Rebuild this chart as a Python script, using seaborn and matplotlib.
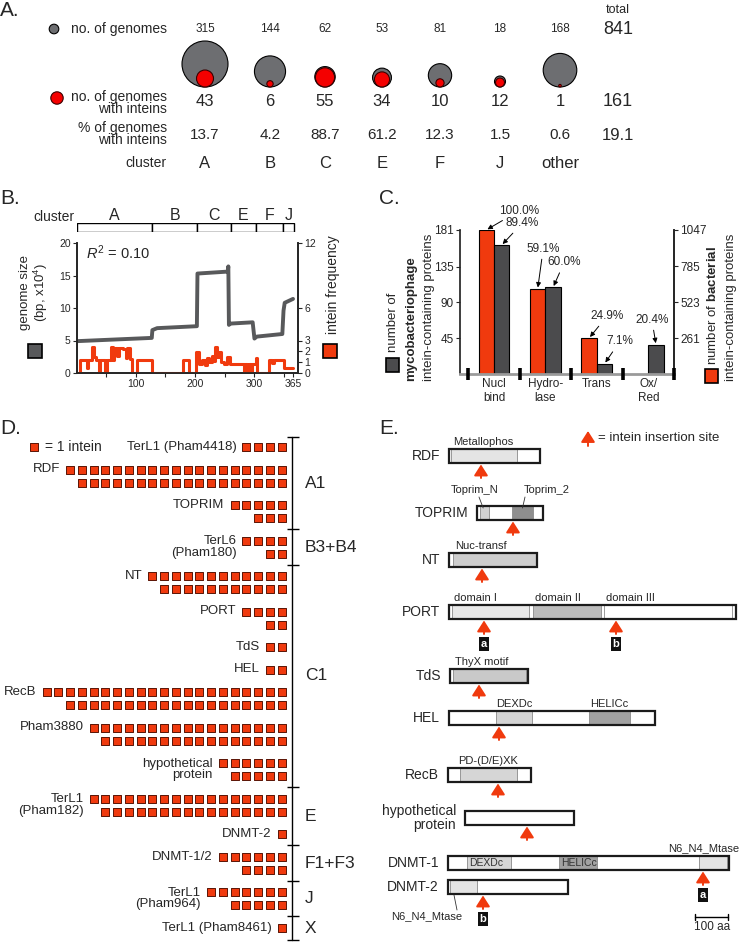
import numpy as np
import pandas as pd
import matplotlib
matplotlib.use('Agg')
import matplotlib.pyplot as plt
import seaborn as sns
from matplotlib.patches import Circle, Rectangle

sns.set_theme(style='ticks')
plt.rcParams['font.family'] = ['Liberation Sans', 'DejaVu Sans']
plt.rcParams['mathtext.fontset'] = 'custom'
plt.rcParams['mathtext.rm'] = 'Liberation Sans'
plt.rcParams['mathtext.it'] = 'Liberation Sans:italic'
plt.rcParams['mathtext.bf'] = 'Liberation Sans:bold'

# --- A. genomes per cluster ---
clusters_a = ['A', 'B', 'C', 'E', 'F', 'J', 'other']
n_genomes = [315, 144, 62, 53, 81, 18, 168]
n_with_inteins = [43, 6, 55, 34, 10, 12, 1]
pct_with_inteins = ['13.7', '4.2', '88.7', '61.2', '12.3', '1.5', '0.6']
total_genomes = '841'
total_inteins = '161'
total_pct = '19.1'

# --- B. genome size vs intein frequency (genome index 1..365) ---
cluster_names_b = ['A', 'B', 'C', 'E', 'F', 'J']
cluster_edges_b = [1, 127, 204, 260, 302, 348, 366]
size_x = [1, 127, 128, 136, 203, 204, 255, 256, 257, 259, 297, 300, 304, 347, 349, 351, 365]
size_y = [4.9, 5.4, 6.6, 6.9, 7.2, 15.3, 15.6, 16.4, 7.4, 7.6, 7.8, 5.3, 5.6, 6.0, 9.6, 10.8, 11.4]
freq_x = [1, 6, 18, 20, 27, 30, 33, 38, 40, 49, 51, 58, 61, 64, 68, 72, 78, 84, 86, 90, 94,
          102, 128, 180, 189, 202, 206, 212, 216, 220, 224, 228, 231, 234, 237, 241, 244,
          248, 253, 258, 282, 284, 288, 290, 294, 296, 303, 305, 324, 330, 333, 349, 365]
freq_y = [0, 1.2, 0.5, 1.2, 2.4, 1.5, 1.2, 0, 1.2, 0, 1.2, 2.4, 1.2, 2.3, 1.6, 2.3, 2.2, 1.4, 2.3, 1.3, 0,
          1.2, 0, 1.2, 0, 1.9, 0.8, 1.2, 0.7, 1.4, 1.0, 1.6, 1.1, 2.4, 1.5, 1.9, 1.0,
          0.8, 1.5, 0.8, 0, 0.8, 0, 0.8, 0, 0.8, 1.4, 0, 1.2, 0.9, 1.2, 0.5, 0.5]

# --- C. intein-containing proteins by function ---
categories_c = ['Nucl\nbind', 'Hydro-\nlase', 'Trans', 'Ox/\nRed']
phage_counts = [162, 109, 13, 37]
bacterial_counts = [1047, 619, 261, 0]
phage_pct = ['89.4%', '60.0%', '7.1%', '20.4%']
bacterial_pct = ['100.0%', '59.1%', '24.9%', '']

# --- D. inteins per gene ---
genes_d = ['TerL1 (Pham4418)', 'RDF', 'TOPRIM', 'TerL6\n(Pham180)', 'NT', 'PORT', 'TdS', 'HEL',
           'RecB', 'Pham3880', 'hypothetical\nprotein', 'TerL1\n(Pham182)', 'DNMT-2',
           'DNMT-1/2', 'TerL1\n(Pham964)', 'TerL1 (Pham8461)']
rows_d = [[4], [19, 18], [5, 3], [4, 2], [12, 11], [4, 2], [2], [2],
          [21, 19], [17, 16], [6, 5], [17, 16], [1], [6, 4], [7, 5], [1]]
groups_d = ['A1', 'B3+B4', 'C1', 'E', 'F1+F3', 'J', 'X']
genes_per_group = [3, 1, 7, 2, 1, 1, 1]

# --- E. domain maps (aa) ---
proteins_e = ['RDF', 'TOPRIM', 'NT', 'PORT', 'TdS', 'HEL', 'RecB', 'hypothetical\nprotein', 'DNMT-1', 'DNMT-2']
prot_start_aa = [0, 84, 0, 0, 3, 0, -3, 48, -3, -3]
prot_len_aa = [273, 198, 264, 861, 234, 618, 249, 327, 843, 360]
domains_e = [
    [('Metallophos', 6, 204, '#e4e4e4', 'left')],
    [('Toprim_N', 93, 120, '#d2d2d2', 'lead'), ('Toprim_2', 189, 252, '#8e8e8e', 'lead')],
    [('Nuc-transf', 12, 261, '#cdcdcd', 'left')],
    [('domain I', 9, 240, '#e8e8e8', 'left'), ('domain II', 252, 456, '#bcbcbc', 'left'),
     ('domain III', 465, 849, '#ffffff', 'left')],
    [('ThyX motif', 12, 231, '#c9c9c9', 'left')],
    [('DEXDc', 141, 249, '#d4d4d4', 'center'), ('HELICc', 420, 543, '#a2a2a2', 'center')],
    [('PD-(D/E)XK', 33, 204, '#d6d6d6', 'center')],
    [],
    [('DEXDc', 54, 186, '#d6d6d6', 'inside'), ('HELICc', 330, 444, '#a2a2a2', 'inside'),
     ('N6_N4_Mtase', 750, 834, '#e4e4e4', 'right')],
    [('N6_N4_Mtase', 3, 84, '#e4e4e4', 'below')],
]
intein_sites_aa = [[96], [192], [99], [105, 501], [90], [150], [147], [234], [762], [102]]
site_tags = [[''], [''], [''], ['a', 'b'], [''], [''], [''], [''], ['a'], ['b']]
scale_bar_aa = 100

RED = '#f03a0e'
RED_A = '#f40000'
GRAY_A = '#6d6e71'

W, H = 740, 942
fig = plt.figure(figsize=(W / 100, H / 100), dpi=100)


def box(x0, y0, x1, y1):
    return [x0 / W, 1 - y1 / H, (x1 - x0) / W, (y1 - y0) / H]


canvas = fig.add_axes([0, 0, 1, 1])
canvas.set_xlim(0, W)
canvas.set_ylim(H, 0)
canvas.axis('off')


def txt(x, y, s, size, ha='center', va='center', **kw):
    canvas.text(x, y, s, fontsize=size, ha=ha, va=va, **kw)


for lab, (x, y) in zip(['A.', 'B.', 'C.', 'D.', 'E.'],
                       [(0, 10), (0, 198), (379, 198), (0, 428), (379, 429)]):
    txt(x, y, lab, 15, ha='left')

# ---------------- Panel A ----------------
col_x = [205, 270, 325, 382, 440, 500, 560]
tot_x = 618
k = 23 / np.sqrt(315)
base_y = 87
for x, n, m in zip(col_x, n_genomes, n_with_inteins):
    r = k * np.sqrt(n)
    canvas.add_patch(Circle((x, base_y - r), r, fc=GRAY_A, ec='black', lw=0.8))
    r2 = k * np.sqrt(m)
    canvas.add_patch(Circle((x, base_y - r2), r2, fc=RED_A, ec='#3a0000', lw=0.8))
canvas.add_patch(Circle((54, 29), 4.8, fc=GRAY_A, ec='black', lw=0.8))
canvas.add_patch(Circle((57, 98), 6.2, fc=RED_A, ec='#3a0000', lw=0.8))

lab_x = 167
txt(lab_x, 29, 'no. of genomes', 10, ha='right')
txt(lab_x, 103, 'no. of genomes\nwith inteins', 10, ha='right', linespacing=0.9)
txt(lab_x, 134, '% of genomes\nwith inteins', 10, ha='right', linespacing=0.9)
txt(lab_x, 163, 'cluster', 10, ha='right')
txt(tot_x, 10, 'total', 9)
for x, n, m, p, c in zip(col_x, n_genomes, n_with_inteins, pct_with_inteins, clusters_a):
    txt(x, 29, str(n), 8.5)
    txt(x, 102, str(m), 12)
    txt(x, 135, p, 11)
    txt(x, 163, c, 12)
txt(tot_x, 30, total_genomes, 13)
txt(tot_x, 102, total_inteins, 13)
txt(tot_x, 135, total_pct, 12)

# ---------------- Panel B ----------------
axcl = fig.add_axes(box(77, 223, 298, 232))
axcl.set_facecolor('none')
starts = cluster_edges_b[:-1]
widths = np.diff(cluster_edges_b)
axcl.barh(0, widths, left=starts, height=1, color='white', edgecolor='black', linewidth=1)
for s, w, name in zip(starts, widths, cluster_names_b):
    axcl.text(s + w / 2, 1.3, name, ha='center', va='center', fontsize=11.5, clip_on=False)
axcl.set_xlim(1, 373.4)
axcl.set_ylim(-0.5, 0.5)
axcl.axis('off')
txt(74, 217, 'cluster', 10, ha='right')

axb = fig.add_axes(box(77, 243, 298, 373))
axb.set_facecolor('none')
sns.lineplot(x=size_x, y=size_y, ax=axb, color='#58595b', linewidth=2.8, estimator=None, sort=False)
axb.set_xlim(1, 373.4)
axb.set_ylim(0, 20)
axb.set_yticks([0, 5, 10, 15, 20])
xt = [50, 100, 150, 200, 250, 300, 350, 365]
axb.set_xticks(xt)
axb.set_xticklabels([str(v) if v in (100, 200, 300, 365) else '' for v in xt])
axb.spines['top'].set_visible(False)
axb.tick_params(labelsize=7.5, length=3, width=0.8, pad=1.5)
axb2 = axb.twinx()
sns.lineplot(x=freq_x, y=freq_y, ax=axb2, color=RED, linewidth=2.2, drawstyle='steps-post',
             estimator=None, sort=False)
axb2.set_ylim(0, 12)
axb2.set_yticks([0, 1, 2, 3, 6, 12])
axb2.spines['top'].set_visible(False)
axb2.tick_params(labelsize=7.5, length=3, width=0.8, pad=1.5)
axb2.set_ylabel('')
txt(86, 253, r'$R^2$ = 0.10', 10.5, ha='left')
txt(25, 292, 'genome size', 9.5, rotation=90)
txt(41, 292, r'(bp, x10$^4$)', 9.5, rotation=90)
canvas.add_patch(Rectangle((28, 344), 14, 14, fc='#58595b', ec='black', lw=1.2))
txt(333, 285, 'intein frequency', 10, rotation=90)
canvas.add_patch(Rectangle((323, 344), 14, 14, fc=RED, ec='black', lw=1.2))

# ---------------- Panel C ----------------
scale_c = 181 / 1047
df_c = pd.DataFrame({
    'category': categories_c * 2,
    'source': ['bacterial'] * 4 + ['phage'] * 4,
    'count': bacterial_counts + phage_counts,
})
df_c['height'] = np.where(df_c['source'] == 'bacterial', df_c['count'] * scale_c, df_c['count'])
df_c = df_c[df_c['count'] > 0]

axc = fig.add_axes(box(460, 230, 674, 374))
axc.set_facecolor('none')
sns.barplot(data=df_c, x='category', y='height', hue='source', order=categories_c,
            hue_order=['bacterial', 'phage'], palette={'bacterial': RED, 'phage': '#4b4b4d'},
            width=0.6, saturation=1, edgecolor='black', linewidth=0.8, legend=False, ax=axc)
axc.set_xlim(-0.66, 3.5)
axc.set_ylim(0, 181)
axc.set_yticks([45, 90, 135, 181])
axc.set_xlabel('')
axc.set_ylabel('')
axc.spines['top'].set_visible(False)
axc.spines['bottom'].set_color('#9a9a9a')
axc.spines['bottom'].set_linewidth(2)
axc.tick_params(axis='x', length=0, labelsize=8.5, pad=3)
axc.tick_params(axis='y', labelsize=8.5, length=3, width=0.8, pad=1.5)
sec = axc.secondary_yaxis('right', functions=(lambda v: v / scale_c, lambda v: v * scale_c))
sec.set_yticks([261, 523, 785, 1047])
sec.tick_params(labelsize=8.5, length=3, width=0.8, pad=1.5)
axc.vlines([-0.5, 0.5, 1.5, 2.5, 3.5], -7.5, 7.5, color='black', lw=2.6, clip_on=False, zorder=5)

# percentage labels: (text, bar x, bar top, offset in points)
notes = [
    (bacterial_pct[0], -0.15, bacterial_counts[0] * scale_c, (24, 14)),
    (phage_pct[0], 0.15, phage_counts[0], (15, 16)),
    (bacterial_pct[1], 0.85, bacterial_counts[1] * scale_c, (4, 29)),
    (phage_pct[1], 1.15, phage_counts[1], (8, 18)),
    (bacterial_pct[2], 1.85, bacterial_counts[2] * scale_c, (13, 16)),
    (phage_pct[2], 2.15, phage_counts[2], (11, 16)),
    (phage_pct[3], 3.15, phage_counts[3], (-3, 18)),
]
for s, bx, by, off in notes:
    axc.annotate(s, xy=(bx, by), xytext=off, textcoords='offset points', ha='center', va='center',
                 fontsize=8.5, annotation_clip=False,
                 arrowprops=dict(arrowstyle='-|>', color='black', lw=0.7, mutation_scale=7,
                                 shrinkA=1, shrinkB=1))

txt(393, 352, 'number of', 9.5, va='bottom', rotation=90)
txt(411, 381, 'mycobacteriophage', 9.5, va='bottom', rotation=90, weight='bold')
txt(429, 381, 'intein-containing proteins', 9.5, va='bottom', rotation=90)
canvas.add_patch(Rectangle((386, 358), 13, 14, fc='#4b4b4d', ec='black', lw=1.2))
txt(713, 365, r'number of $\mathbf{bacterial}$', 9.5, va='bottom', rotation=90)
txt(731, 381, 'intein-containing proteins', 9.5, va='bottom', rotation=90)
canvas.add_patch(Rectangle((705, 369), 13, 14, fc=RED, ec='black', lw=1.2))

# ---------------- Panel D ----------------
recs = []
gene_rows = []
y = 447.0
for gi, counts in enumerate(rows_d):
    if gi > 0:
        y += 22.5
    ys = []
    for ri, c in enumerate(counts):
        if ri > 0:
            y += 13
        ys.append(y)
        for col in range(c):
            recs.append({'col': col, 'row_y': y})
    gene_rows.append(ys)
df_d = pd.DataFrame(recs)

axd = fig.add_axes(box(0, 437, 370, 942))
axd.set_facecolor('none')
sns.scatterplot(data=df_d, x='col', y='row_y', marker='s', s=38, color=RED,
                edgecolor='#5a1405', linewidth=0.7, legend=False, ax=axd)
axd.set_xlim(23.96, -7.53)
axd.set_ylim(942, 437)
axd.axis('off')
for gene, counts, ys in zip(genes_d, rows_d, gene_rows):
    ty = (ys[0] + ys[1]) / 2 if '\n' in gene else ys[0]
    axd.text(counts[0] - 1 + 0.85, ty, gene, ha='right', va='center', fontsize=9.5,
             linespacing=0.98, multialignment='right')

canvas.scatter([34], [447], marker='s', s=38, color=RED, edgecolor='#5a1405', linewidth=0.7)
txt(45, 447, '= 1 intein', 10, ha='left')

bounds = [437]
gi = 0
for gsize in genes_per_group[:-1]:
    gi += gsize
    bounds.append((gene_rows[gi - 1][-1] + gene_rows[gi][0]) / 2)
bounds.append(940)
canvas.plot([292, 292], [437, 940], color='black', lw=1)
canvas.hlines(bounds, 287, 299, color='black', lw=1)
for name, b0, b1 in zip(groups_d, bounds[:-1], bounds[1:]):
    txt(305, (b0 + b1) / 2, name, 12.5, ha='left')

# ---------------- Panel E ----------------
row_y_e = [456, 513, 560, 612, 676, 718, 775, 818, 863, 887]
axe = fig.add_axes(box(370, 425, 740, 942))
axe.set_facecolor('none')
axe.set_xlim(-237, 873)
axe.set_ylim(942, 425)
axe.axis('off')
bh = 14
for i, name in enumerate(proteins_e):
    yc = row_y_e[i]
    st, ln = prot_start_aa[i], prot_len_aa[i]
    axe.barh(yc, ln, left=st, height=bh, color='white', edgecolor='none')
    for dname, d0, d1, dcol, mode in domains_e[i]:
        axe.barh(yc, d1 - d0, left=d0, height=bh, color=dcol, edgecolor='#8a8a8a', linewidth=0.6)
        if mode == 'left':
            axe.text(d0 + 6, yc - 14, dname, ha='left', va='center', fontsize=8)
        elif mode == 'center':
            axe.text((d0 + d1) / 2, yc - 14, dname, ha='center', va='center', fontsize=8)
        elif mode == 'inside':
            axe.text(d0 + 6, yc + 0.5, dname, ha='left', va='center', fontsize=7.5, color='#333333')
        elif mode == 'right':
            axe.text(d1 + 36, yc - 15, dname, ha='right', va='center', fontsize=8)
        elif mode == 'lead':
            lx = d0 - 15 if d1 < 150 else d1 + 42
            axe.text(lx, yc - 23, dname, ha='center', va='center', fontsize=8)
            axe.plot([lx + (12 if d1 < 150 else -66), (d0 + d1) / 2 - (4 if d1 < 150 else 0)],
                     [yc - 16, yc - 5], color='#333333', lw=0.6)
        elif mode == 'below':
            axe.text(d0 - 69, yc + 29, dname, ha='center', va='center', fontsize=8)
            axe.plot([d0 + 21, d0 + 12], [yc + 23, yc + 8], color='#333333', lw=0.6)
    axe.barh(yc, ln, left=st, height=bh, fill=False, edgecolor='#1b1b1b', linewidth=1.6)
    axe.text(st - 27, yc, name, ha='right', va='center', fontsize=10, linespacing=1.08,
             multialignment='right')
    for site, tag in zip(intein_sites_aa[i], site_tags[i]):
        axe.annotate('', xy=(site, yc + 8.5), xytext=(site, yc + 22),
                     arrowprops=dict(arrowstyle='-|>,head_width=0.35,head_length=0.55',
                                     color=RED, lw=1.4, mutation_scale=12, shrinkA=0, shrinkB=0))
        if tag:
            axe.text(site, yc + 32, tag, ha='center', va='center', fontsize=8, color='white',
                     weight='bold', bbox=dict(boxstyle='square,pad=0.18', fc='#111111', ec='none'))

# scale bar
sb0 = 738
axe.plot([sb0, sb0 + scale_bar_aa], [917, 917], color='black', lw=1)
axe.plot([sb0, sb0], [914, 920], color='black', lw=1)
axe.plot([sb0 + scale_bar_aa, sb0 + scale_bar_aa], [914, 920], color='black', lw=1)
axe.text(sb0 + scale_bar_aa / 2, 927, '100 aa', ha='center', va='center', fontsize=8.5)

# legend for insertion sites
canvas.annotate('', xy=(588, 431), xytext=(588, 446),
                arrowprops=dict(arrowstyle='-|>,head_width=0.35,head_length=0.55', color=RED,
                                lw=1.4, mutation_scale=12, shrinkA=0, shrinkB=0))
txt(598, 438, '= intein insertion site', 9.5, ha='left')

fig.savefig('out.png', dpi=100)
